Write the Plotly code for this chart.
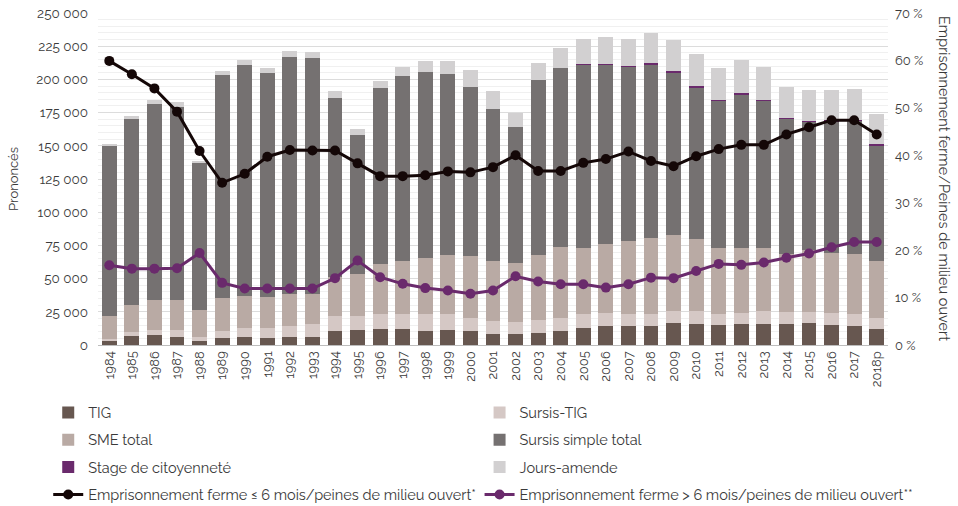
import plotly.graph_objects as go

# Years and sentence counts (pronounced), stacked bottom to top
years = ["1984", "1985", "1986", "1987", "1988", "1989", "1990", "1991", "1992", "1993",
         "1994", "1995", "1996", "1997", "1998", "1999", "2000", "2001", "2002", "2003",
         "2004", "2005", "2006", "2007", "2008", "2009", "2010", "2011", "2012", "2013",
         "2014", "2015", "2016", "2017", "2018p"]

tig = [3000, 6600, 7200, 5900, 2900, 5100, 5900, 5100, 5900, 5900,
       10400, 11200, 11700, 11700, 10900, 11000, 10300, 8200, 8100, 8900,
       10400, 12600, 14200, 14100, 14100, 16200, 15600, 14700, 15500, 15600,
       15600, 16200, 15000, 14200, 12400]

sursis_tig = [1700, 3100, 4000, 5300, 3500, 5800, 6800, 7600, 8100, 9800,
              11100, 10300, 12000, 12000, 12300, 12200, 10400, 9500, 9400, 9600,
              10300, 10400, 10100, 9600, 8900, 9600, 9700, 8800, 8600, 9700,
              9000, 8800, 9300, 8800, 8300]

sme_total = [17300, 20100, 22400, 22400, 20100, 24700, 24100, 23300, 24300, 23000,
             30000, 31700, 37000, 39400, 42000, 44500, 46100, 45300, 44500, 49000,
             52800, 49800, 51500, 54600, 57800, 57300, 54300, 49300, 49200, 47500,
             44300, 46300, 45200, 45300, 42900]

sursis_simple = [128000, 140500, 147900, 145500, 110200, 167800, 174200, 168800, 178800, 177600,
                 134600, 104800, 132800, 139500, 140500, 136500, 127600, 114800, 101800, 132000,
                 135300, 138700, 135200, 131200, 130500, 122200, 114600, 111100, 115600, 111100,
                 101400, 96700, 99000, 100500, 86900]

stage_citoyennete = [0, 0, 0, 0, 0, 0, 0, 0, 0, 0,
                     0, 0, 0, 0, 0, 0, 0, 0, 0, 0,
                     0, 200, 600, 700, 800, 800, 800, 800, 900, 900,
                     900, 900, 900, 900, 1000]

jours_amende = [1300, 2000, 3100, 3600, 1600, 3100, 3600, 3700, 4200, 4000,
                5300, 4500, 5500, 6700, 7900, 9600, 12400, 13600, 11000, 12800,
                15000, 18500, 20200, 20600, 22600, 23500, 24100, 23800, 24800, 24200,
                23000, 23000, 22500, 23000, 22800]

# Ratios (%) of prison sentences to community sentences
ratio_court = [59.9, 57.1, 54.1, 49.2, 40.9, 34.2, 36.1, 39.7, 41.1, 41.0,
               41.0, 38.3, 35.6, 35.6, 35.8, 36.6, 36.4, 37.5, 40.0, 36.7,
               36.7, 38.4, 39.2, 40.8, 38.8, 37.7, 39.8, 41.3, 42.2, 42.2,
               44.4, 45.9, 47.4, 47.4, 44.4]

ratio_long = [16.8, 16.1, 16.1, 16.2, 19.4, 13.1, 11.9, 11.9, 11.9, 11.9,
              14.1, 17.8, 14.3, 12.9, 12.0, 11.5, 10.8, 11.5, 14.5, 13.4,
              12.8, 12.8, 12.1, 12.8, 14.2, 14.1, 15.6, 17.1, 16.9, 17.4,
              18.4, 19.3, 20.6, 21.7, 21.7]

FONT = "Raleway, Lato, 'Open Sans', sans-serif"
TEXT = "#3a3a3a"

bar_series = [
    ("TIG", tig, "#675750", "legend"),
    ("Sursis-TIG", sursis_tig, "#d5c8c5", "legend2"),
    ("SME total", sme_total, "#b9aaa4", "legend"),
    ("Sursis simple total", sursis_simple, "#757171", "legend2"),
    ("Stage de citoyenneté", stage_citoyennete, "#6a2a6c", "legend"),
    ("Jours-amende", jours_amende, "#d2d0d1", "legend2"),
]

fig = go.Figure()
for name, vals, color, leg in bar_series:
    fig.add_trace(go.Bar(
        x=years, y=vals, name=name, marker=dict(color=color, line=dict(width=0)),
        legend=leg, legendgroup=name,
    ))

fig.add_trace(go.Scatter(
    x=years, y=ratio_court, yaxis="y2", mode="lines+markers",
    name="Emprisonnement ferme ≤ 6 mois/peines de milieu ouvert*",
    line=dict(color="#140707", width=3), marker=dict(color="#140707", size=10),
    legend="legend", legendgroup="court",
))
fig.add_trace(go.Scatter(
    x=years, y=ratio_long, yaxis="y2", mode="lines+markers",
    name="Emprisonnement ferme > 6 mois/peines de milieu ouvert**",
    line=dict(color="#6a2a6c", width=3), marker=dict(color="#6a2a6c", size=10),
    legend="legend2", legendgroup="long",
))

legend_common = dict(
    orientation="v", yanchor="top", xanchor="left", y=-0.155,
    font=dict(family=FONT, size=14.5, color=TEXT), bgcolor="rgba(0,0,0,0)",
    tracegroupgap=5.5, itemclick=False, itemdoubleclick=False,
)

fig.update_layout(
    width=958, height=506,
    margin=dict(l=98, r=70, t=13, b=161, autoexpand=False),
    barmode="stack", bargap=0.34,
    plot_bgcolor="white", paper_bgcolor="white",
    separators=", ",
    font=dict(family=FONT, size=13, color=TEXT),
    xaxis=dict(
        type="category", range=[-0.5, len(years) - 0.5], tickangle=-90, showgrid=False,
        showline=True, linecolor="#bdbdbd", linewidth=1, ticks="",
        tickfont=dict(size=13, color=TEXT),
    ),
    yaxis=dict(
        range=[0, 250000], dtick=25000, tickformat=",d",
        showgrid=True, gridcolor="#dcdcdc", gridwidth=1,
        minor=dict(dtick=5000, showgrid=True, gridcolor="#f0f0f0", gridwidth=1),
        zeroline=False, ticks="", ticklabelstandoff=9,
        tickfont=dict(size=13.5, color=TEXT),
        title=dict(text="Prononcés", font=dict(size=13, color=TEXT), standoff=14),
    ),
    yaxis2=dict(
        range=[0, 70], dtick=10, ticksuffix=" %", overlaying="y", side="right",
        showgrid=False, zeroline=False, ticks="", ticklabelstandoff=6,
        tickfont=dict(size=13, color=TEXT),
    ),
    legend=dict(x=-0.063, **legend_common),
    legend2=dict(x=0.483, **legend_common),
    annotations=[dict(
        text="Emprisonnement ferme/Peines de milieu ouvert",
        xref="paper", yref="paper", x=1.072, y=0.5, xanchor="center", yanchor="middle",
        textangle=90, showarrow=False, font=dict(family=FONT, size=14.5, color=TEXT),
    )],
)

fig.write_html("out.html")
